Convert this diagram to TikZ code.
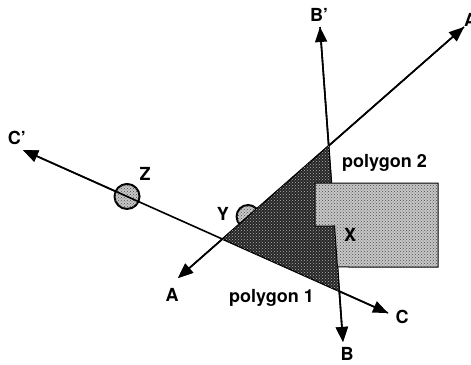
\documentclass[tikz,border=0pt]{standalone}
\usepackage{fontspec}
\setmainfont{TeX Gyre Heros}
\usetikzlibrary{
	arrows.meta,
	calc,
	patterns,
	positioning
}

\begin{document}
\begin{tikzpicture}[x=1pt, y=-1pt,
		axis/.style={line width=1.6pt, -{Triangle[length=15pt, width=12pt]}},
		lbl/.style={font=\fontsize{18}{18}\selectfont\bfseries, inner sep=0pt},
		darkfill/.style={fill=black!85, postaction={pattern=crosshatch dots, pattern color=white!70!black}},
		lightfill/.style={fill=black!22, postaction={pattern=crosshatch dots, pattern color=black!70}},
		marker/.style={circle, draw, line width=2pt, minimum size=22pt, inner sep=0pt, lightfill}
	]
		\useasboundingbox (0,0) rectangle (471,364);
		% axis end points
		\coordinate (A) at (178,278);
		\coordinate (A') at (464,27);
		\coordinate (B) at (343,342);
		\coordinate (B') at (320,27);
		\coordinate (C) at (388,313);
		\coordinate (C') at (23,150);
		% corners of polygon 1
		\coordinate (AB) at (intersection of A--A' and B--B');
		\coordinate (AC) at (intersection of A--A' and C--C');
		\coordinate (BC) at (intersection of B--B' and C--C');
		% corners of polygon 2
		\coordinate (P1) at (315,183);
		\coordinate (P2) at (438,183);
		\coordinate (P3) at (438,267);
		\coordinate (P4) at (intersection of B--B' and 0,267--1,267);
		\coordinate (P5) at (intersection of B--B' and 0,226--1,226);
		\coordinate (P6) at (315,226);
		
		\node[marker, minimum size=25pt] (Zc) at ($(C')!0.285!(C)$) {};
		\node[marker, minimum size=23pt] (Yc) at ($(A)!0.245!(A')$) {};
		
		\draw[axis] (A') -- (A);
		\draw[axis] (AB) -- (A');
		\draw[axis] (B') -- (B);
		\draw[axis] (AB) -- (B');
		\draw[axis] (C) -- (C');
		\draw[axis] (Zc) -- (C');
		
		\draw[darkfill, line width=1pt] (AB) -- (AC) -- (BC) -- cycle;
		\draw[lightfill, line width=1pt] (P1) -- (P2) -- (P3) -- (P4) -- (P5) -- (P6) -- cycle;
		\draw[axis] (BC) -- (B);
		\draw[axis] (BC) -- (C);
		\draw[axis] (AC) -- (A);
		
		\node[lbl] (lA) at (172,295) {A};
		\node[lbl, anchor=west] (lA') at (464,20) {A'};
		\node[lbl] (lB) at (347,354) {B};
		\node[lbl] (lB') at (319,15) {B'};
		\node[lbl] (lC) at (402,317) {C};
		\node[lbl] (lC') at (17,138) {C'};
		\node[lbl] (lX) at (350,235) {X};
		\node[lbl] (lY) at (223,214) {Y};
		\node[lbl] (lZ) at (145,174) {Z};
		\node[lbl, anchor=base west] (poly1) at (229,302) {polygon 1};
		\node[lbl, anchor=base west] (poly2) at (342,167) {polygon 2};
	\end{tikzpicture}
\end{document}
